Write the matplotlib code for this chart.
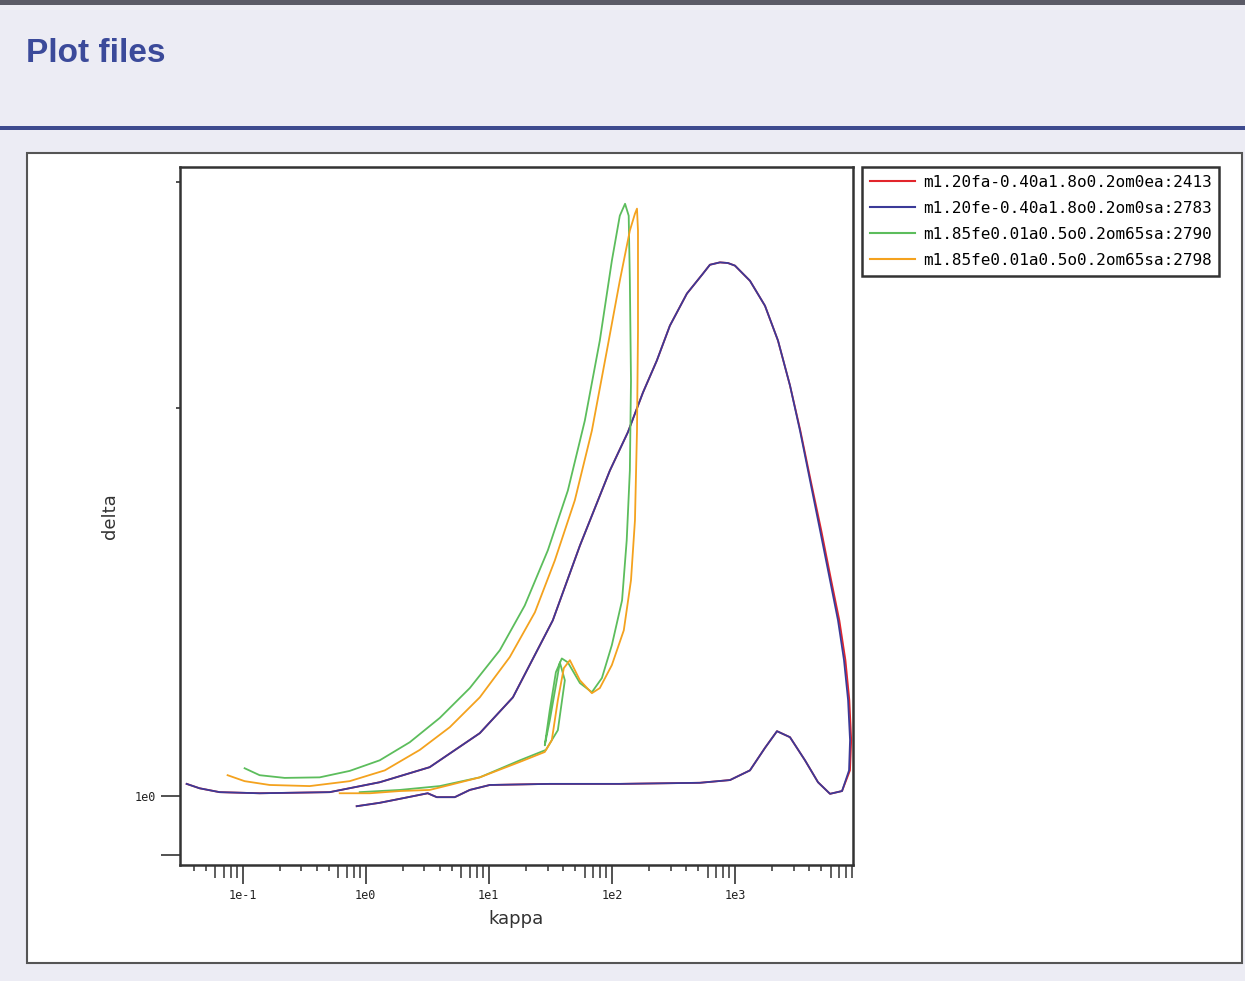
import matplotlib
matplotlib.use("Agg")
import matplotlib.pyplot as plt
import matplotlib.ticker as mticker
from matplotlib.patches import Rectangle

# series (kappa, delta)
labels = ["m1.20fa-0.40a1.8o0.2om0ea:2413",
          "m1.20fe-0.40a1.8o0.2om0sa:2783",
          "m1.85fe0.01a0.5o0.2om65sa:2790",
          "m1.85fe0.01a0.5o0.2om65sa:2798"]
colors = ["#e2252b", "#3b3a98", "#5cbd5c", "#f4a21e"]

blue_kappa = [0.845, 1.30, 1.89, 3.19, 3.78, 5.29, 7.01, 10.2, 31.3, 116, 519, 911, 1324,
              1754, 2195, 2799, 3707, 4730, 5920, 7413, 8450, 8610, 8300, 7690, 6875, 5920,
              4910, 4070, 3376, 2799, 2237, 1754, 1324, 1000, 877, 755, 626, 549, 407, 296,
              232, 179, 135, 96.4, 55, 33.1, 15.7, 8.45, 3.31, 1.30, 0.51, 0.1375, 0.065,
              0.0447, 0.0351]
blue_delta = [0.982, 0.988, 0.995, 1.005, 0.998, 0.998, 1.011, 1.020, 1.022, 1.022, 1.024,
              1.029, 1.047, 1.090, 1.123, 1.111, 1.066, 1.025, 1.004, 1.009, 1.047, 1.105,
              1.187, 1.275, 1.369, 1.471, 1.609, 1.759, 1.922, 2.084, 2.258, 2.403, 2.513,
              2.582, 2.594, 2.597, 2.586, 2.545, 2.456, 2.319, 2.179, 2.058, 1.917, 1.790,
              1.565, 1.369, 1.193, 1.119, 1.053, 1.025, 1.007, 1.005, 1.007, 1.014, 1.022]

red_kappa = [0.845, 1.30, 1.89, 3.19, 3.78, 5.29, 7.01, 10.2, 31.3, 116, 519, 911, 1324,
             1754, 2195, 2799, 3707, 4730, 5920, 7413, 8600, 8800, 8500, 7900, 7050, 6050,
             5020, 4120, 3400, 2799, 2237, 1754, 1324, 1000, 877, 755, 626, 549, 407, 296,
             232, 179, 135, 96.4, 55, 33.1, 15.7, 8.45, 3.31, 1.30, 0.51, 0.1375, 0.065,
             0.0447, 0.0351]
red_delta = list(blue_delta)

green_kappa = [0.1038, 0.1375, 0.2195, 0.4227, 0.741, 1.30, 2.28, 4.0, 7.01, 12.3, 19.6,
               30.2, 43.9, 60.3, 79.8, 100, 116, 128, 137, 140, 143, 140, 132, 121, 100, 83,
               68.8, 55, 43.9, 39.2, 35.1, 31.3, 28.5, 31.3, 35.1, 37.8, 41.5, 36.4, 29.1,
               17.9, 8.45, 4.0, 1.89, 0.894]
green_delta = [1.051, 1.038, 1.033, 1.034, 1.046, 1.066, 1.101, 1.150, 1.213, 1.298, 1.406,
               1.552, 1.727, 1.957, 2.258, 2.605, 2.823, 2.884, 2.823, 2.513, 2.102, 1.790,
               1.580, 1.419, 1.310, 1.235, 1.204, 1.224, 1.270, 1.279, 1.248, 1.166, 1.095,
               1.145, 1.219, 1.270, 1.230, 1.125, 1.086, 1.066, 1.034, 1.018, 1.011, 1.007]

orange_kappa = [0.0755, 0.1038, 0.166, 0.351, 0.741, 1.43, 2.75, 4.82, 8.45, 14.8, 23.7,
                34.4, 50.0, 68.8, 91.1, 116, 140, 154, 160, 163, 163, 160, 154, 143, 125,
                100, 79.8, 68.8, 55, 45.6, 40.7, 36.4, 32.5, 28.5, 17.9, 8.45, 4.82, 3.31,
                1.89, 1.08, 0.615]
orange_delta = [1.038, 1.027, 1.020, 1.018, 1.027, 1.047, 1.086, 1.131, 1.193, 1.282, 1.389,
                1.524, 1.697, 1.922, 2.218, 2.513, 2.749, 2.833, 2.859, 2.749, 2.298, 1.922,
                1.637, 1.471, 1.345, 1.264, 1.213, 1.202, 1.230, 1.275, 1.257, 1.187, 1.105,
                1.082, 1.063, 1.034, 1.020, 1.011, 1.009, 1.005, 1.005]

xticks = [0.1, 1, 10, 100, 1000]
xticklabels = ["1e-1", "1e0", "1e1", "1e2", "1e3"]

W, H = 1245, 981


def box(x, y, w, h, **kw):
    # rectangle given in page pixels (top-left origin)
    return Rectangle((x / W, 1 - (y + h) / H), w / W, h / H,
                     transform=fig.transFigure, figure=fig, zorder=-5, **kw)


fig = plt.figure(figsize=(W / 100, H / 100), dpi=100, facecolor="#ececf4")
fig.patches.extend([
    box(0, 0, W, 5, facecolor="#5a5a66", edgecolor="none"),
    box(0, 126, W, 4, facecolor="#3d4a8e", edgecolor="none"),
    box(27, 153, 1215, 810, facecolor="white", edgecolor="#555555", linewidth=1.5),
])
fig.text(26 / W, 1 - 53 / H, "Plot files", fontsize=24, fontweight="bold",
         color="#3b4a9a", family="Liberation Sans", va="center")

ax = fig.add_axes([180 / W, 1 - 865 / H, 673 / W, 698 / H])
ax.set_xscale("log")
ax.set_yscale("log")

ax.plot(red_kappa, red_delta, color=colors[0], lw=1.3, label=labels[0])
ax.plot(blue_kappa, blue_delta, color=colors[1], lw=1.3, label=labels[1])
ax.plot(green_kappa, green_delta, color=colors[2], lw=1.3, label=labels[2])
ax.plot(orange_kappa, orange_delta, color=colors[3], lw=1.3, label=labels[3])

ax.set_xlim(0.031, 9100)
ax.set_ylim(0.884, 3.08)

for s in ax.spines.values():
    s.set_linewidth(1.8)
    s.set_color("#333333")

tickfont = dict(family="DejaVu Sans Mono", size=8.5)
ax.set_xticks(xticks, labels=xticklabels, **tickfont)
ax.xaxis.set_minor_locator(mticker.FixedLocator(
    [m * 10.0 ** e for e in range(-2, 4) for m in (2, 3, 4, 5)]))
ax.xaxis.set_minor_formatter(mticker.NullFormatter())
ax.set_yticks([0.9, 1.0], labels=["", "1e0"], **tickfont)
ax.yaxis.set_minor_locator(mticker.FixedLocator([2, 3]))
ax.yaxis.set_minor_formatter(mticker.NullFormatter())
ax.tick_params(which="major", length=14, width=1.2, color="#333333", labelcolor="#222222")
ax.tick_params(axis="x", which="minor", length=4.5, width=1.1, color="#333333")
ax.tick_params(axis="y", which="minor", length=3, width=1.2, color="#333333")

sec = ax.secondary_xaxis("bottom")
sec.set_ticks([m * 10.0 ** e for e in range(-2, 4) for m in (6, 7, 8, 9)])
sec.xaxis.set_minor_locator(mticker.NullLocator())
sec.tick_params(length=9, width=1.1, color="#333333", labelbottom=False)
sec.spines["bottom"].set_visible(False)

ax.set_xlabel("kappa", fontsize=13, color="#333333")
ax.xaxis.set_label_coords(0.5, -0.064)
ax.set_ylabel("delta", fontsize=13, color="#333333")
ax.yaxis.set_label_coords(-0.09, 0.5)

leg = fig.legend(loc="upper left", bbox_to_anchor=(862 / W, 1 - 167 / H),
                 prop=dict(family="DejaVu Sans Mono", size=11.5), frameon=True,
                 fancybox=False, edgecolor="#333333", framealpha=1,
                 handlelength=2.8, handletextpad=0.5, labelspacing=0.68,
                 borderpad=0.5, borderaxespad=0)
leg.get_frame().set_linewidth(1.8)
for line in leg.get_lines():
    line.set_linewidth(1.5)

fig.savefig("out.png", dpi=100, facecolor=fig.get_facecolor())
